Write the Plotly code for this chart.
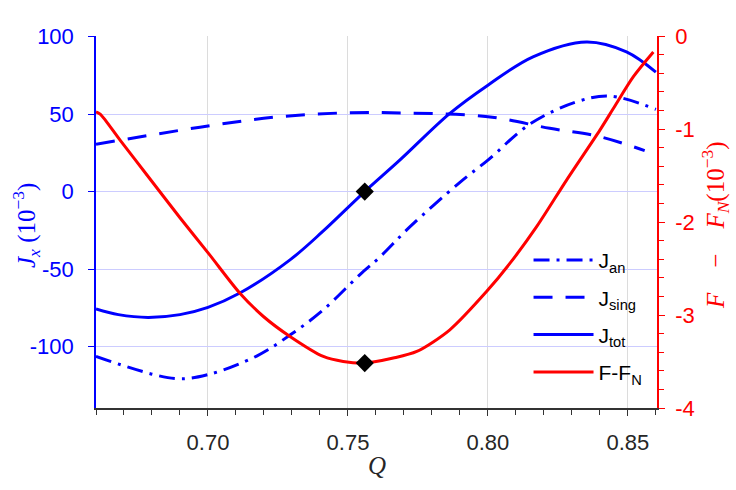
import plotly.graph_objects as go

# ---- data ----
q_tot = [0.66, 0.668, 0.6786, 0.69, 0.70, 0.7114, 0.7293, 0.741, 0.756, 0.7686, 0.7864, 0.80, 0.8161, 0.8352, 0.8495, 0.86]
j_tot = [-75.7, -79.3, -81.1, -79.3, -74.6, -65.4, -44.0, -25.7, 0.0, 20.4, 50.4, 68.6, 86.9, 96.5, 90.1, 77.0]

q_sing = [0.66, 0.70, 0.7257, 0.75, 0.772, 0.80, 0.8221, 0.84, 0.856]
j_sing = [30.5, 42.3, 48.3, 50.8, 50.6, 48.3, 40.8, 35.4, 26.4]

q_an = [0.66, 0.6882, 0.70, 0.7174, 0.7293, 0.741, 0.7543, 0.7614, 0.7721, 0.79, 0.80, 0.815, 0.8317, 0.8436, 0.86]
j_an = [-106.2, -120.5, -118.0, -106.0, -92.5, -76.5, -53.5, -42.2, -22.8, 6.0, 20.3, 43.5, 57.9, 61.6, 53.0]

q_f = [0.66, 0.6615, 0.6686, 0.6782, 0.69, 0.7004, 0.7114, 0.7198, 0.7293, 0.7412, 0.7483, 0.756, 0.7662,
       0.7746, 0.7864, 0.7995, 0.8079, 0.8174, 0.8281, 0.84, 0.8448, 0.8519, 0.8591]
f_diff = [-0.816, -0.84, -1.12, -1.495, -1.954, -2.346, -2.766, -3.016, -3.231, -3.446, -3.50, -3.517, -3.463,
          -3.392, -3.159, -2.748, -2.443, -2.05, -1.549, -1.012, -0.78, -0.44, -0.172]

q_mark = [0.756]
j_mark = [0.0]
f_mark = [-3.517]

left_ticks = [-100, -50, 0, 50, 100]
left_text = ["-100", "-50", "0", "50", "100"]
right_ticks = [-4, -3, -2, -1, 0]
right_text = ["-4", "-3", "-2", "-1", "0"]
x_ticks = [0.70, 0.75, 0.80, 0.85]
x_text = ["0.70", "0.75", "0.80", "0.85"]

BLUE = "#0000ff"
RED = "#ff0000"

fig = go.Figure()
fig.add_trace(go.Scatter(x=q_an, y=j_an, mode="lines", name="J<sub>an</sub>", legendgroup="a",
                         line=dict(color=BLUE, width=3, dash="16px,7px,3px,7px", shape="spline", smoothing=1.0)))
fig.add_trace(go.Scatter(x=q_sing, y=j_sing, mode="lines", name="J<sub>sing</sub>", legendgroup="b",
                         line=dict(color=BLUE, width=3, dash="19px,13px", shape="spline", smoothing=1.0)))
fig.add_trace(go.Scatter(x=q_tot, y=j_tot, mode="lines", name="J<sub>tot</sub>", legendgroup="c",
                         line=dict(color=BLUE, width=3, shape="spline", smoothing=1.0)))
fig.add_trace(go.Scatter(x=q_f, y=f_diff, mode="lines", name="F-F<sub>N</sub>", legendgroup="d", yaxis="y2",
                         line=dict(color=RED, width=3, shape="spline", smoothing=0.8)))
fig.add_trace(go.Scatter(x=q_mark, y=j_mark, mode="markers", showlegend=False,
                         marker=dict(symbol="diamond", size=14, color="black")))
fig.add_trace(go.Scatter(x=q_mark, y=f_mark, mode="markers", showlegend=False, yaxis="y2",
                         marker=dict(symbol="diamond", size=14, color="black")))

tick_font = dict(family="Liberation Sans, Arial, sans-serif", size=22)

fig.update_layout(
    width=736, height=490,
    margin=dict(l=96, r=79, t=36, b=82),
    paper_bgcolor="white", plot_bgcolor="white",
    showlegend=True,
    legend=dict(x=0.771, y=0.452, xanchor="left", yanchor="top", bgcolor="rgba(0,0,0,0)",
                font=dict(family="Liberation Sans, Arial, sans-serif", size=21, color="black"),
                tracegroupgap=7, itemwidth=60),
    xaxis=dict(range=[0.66, 0.8604], tickvals=x_ticks, ticktext=x_text, tickfont=dict(tick_font, color="#262626"),
               showline=True, linecolor="#333333", linewidth=1.5, ticks="outside", ticklen=6, tickcolor="#333333",
               showgrid=True, gridcolor="#dcdcdc", gridwidth=1, zeroline=False, ticklabelstandoff=8,
               minor=dict(dtick=0.01, ticks="outside", ticklen=5, tickcolor="#333333", showgrid=False)),
    yaxis=dict(range=[-139.5, 100.3], tickvals=left_ticks, ticktext=left_text, tickfont=dict(tick_font, color=BLUE),
               showline=True, linecolor=BLUE, linewidth=1.5, ticks="outside", ticklen=6, tickcolor=BLUE,
               showgrid=True, gridcolor="#ccccff", gridwidth=1, zeroline=False, ticklabelstandoff=10),
    yaxis2=dict(range=[-4, 0], overlaying="y", side="right", tickvals=right_ticks, ticktext=right_text,
                tickfont=dict(tick_font, color=RED), showline=True, linecolor=RED, linewidth=1.5,
                ticks="outside", ticklen=6, tickcolor=RED, showgrid=False, zeroline=False, ticklabelstandoff=6,
                minor=dict(dtick=0.2, ticks="outside", ticklen=5, tickcolor=RED)),
    annotations=[
        dict(text="<i>J<sub>x</sub></i> (10<sup>−3</sup>)", xref="paper", yref="paper",
             x=0, y=0.5, xanchor="center", yanchor="middle", textangle=-90, showarrow=False,
             xshift=-70, yshift=-4, font=dict(family="Liberation Serif, serif", size=25, color=BLUE)),
        dict(text="<i>F</i>  \u2002−\u2002  <i>F<sub>N</sub></i>(10<sup>−3</sup>)", xref="paper", yref="paper",
             x=1.0, y=0.5, xanchor="center", yanchor="middle", textangle=-90, showarrow=False,
             xshift=58, yshift=-3, font=dict(family="Liberation Serif, serif", size=25, color=RED)),
        dict(text="<i>Q</i>", xref="paper", yref="paper", x=0.5, y=0, xanchor="center", yanchor="middle",
             showarrow=False, yshift=-57, font=dict(family="Liberation Serif, serif", size=25, color="#262626")),
    ],
)

fig.write_html("out.html")
